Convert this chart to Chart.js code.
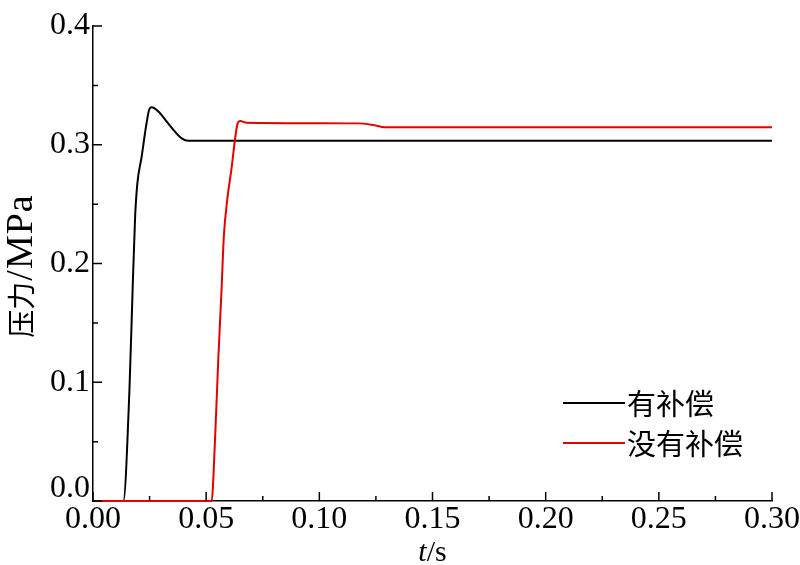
<!DOCTYPE html>
<html><head><meta charset="utf-8">
<script src="https://cdn.jsdelivr.net/npm/chart.js@4"></script>
<style>html,body{margin:0;padding:0;background:#fff}#wrap{width:800px;height:565px}</style>
</head><body><div id="wrap"><canvas id="c" width="800" height="565"></canvas></div>
<script>
// ---- data ----
const timeWith = [0, 0.0134, 0.0161, 0.0175, 0.0186, 0.0196, 0.0215, 0.0234, 0.0249, 0.0259, 0.0289, 0.0326, 0.0362, 0.0392, 0.0421, 0.30];
const pressureWith = [0, 0, 0.0935, 0.178, 0.239, 0.2675, 0.290, 0.315, 0.330, 0.3315, 0.328, 0.3194, 0.311, 0.3054, 0.3034, 0.3034];
const timeWithout = [0, 0.0524, 0.0539, 0.0554, 0.0568, 0.0578, 0.0593, 0.0613, 0.0627, 0.0639, 0.0650, 0.0679, 0.1172, 0.1238, 0.1290, 0.30];
const pressureWithout = [0, 0, 0.051, 0.1215, 0.178, 0.2226, 0.2535, 0.2815, 0.304, 0.318, 0.320, 0.3186, 0.318, 0.3166, 0.3147, 0.3147];
const xTicks = [0, 0.05, 0.10, 0.15, 0.20, 0.25, 0.30];
const yTicks = [0, 0.1, 0.2, 0.3, 0.4];
const seriesLabels = ['有补偿', '没有补偿'];
const xTitleParts = ['t', '/s'];
const yTitleParts = ['压力', '/MPa'];

const SERIF = '"Liberation Serif", "Times New Roman", serif';
const CJK = '"Noto Sans CJK SC", sans-serif';
const BLACK = '#000000';
const RED = 'rgb(228,0,0)';

const toPts = (xs, ys) => xs.map((x, i) => ({ x: x, y: ys[i] }));

const tickMarks = {
  id: 'tickMarks',
  afterDatasetsDraw(chart) {
    const ctx = chart.ctx, a = chart.chartArea;
    const xs = chart.scales.x, ys = chart.scales.y;
    ctx.save();
    ctx.strokeStyle = '#000';
    ctx.lineWidth = 1.5;
    ctx.beginPath();
    xTicks.forEach((v, i) => {
      const p = xs.getPixelForValue(v);
      ctx.moveTo(p, a.bottom); ctx.lineTo(p, a.bottom - 9);
      if (i < xTicks.length - 1) {
        const m = xs.getPixelForValue((v + xTicks[i + 1]) / 2);
        ctx.moveTo(m, a.bottom); ctx.lineTo(m, a.bottom - 5);
      }
    });
    yTicks.forEach((v, i) => {
      const p = ys.getPixelForValue(v);
      ctx.moveTo(a.left, p); ctx.lineTo(a.left + 9, p);
      if (i < yTicks.length - 1) {
        const m = ys.getPixelForValue((v + yTicks[i + 1]) / 2);
        ctx.moveTo(a.left, m); ctx.lineTo(a.left + 5, m);
      }
    });
    ctx.stroke();
    ctx.restore();
  }
};

const titlesAndLegend = {
  id: 'titlesAndLegend',
  afterDraw(chart) {
    const ctx = chart.ctx, a = chart.chartArea;
    ctx.save();
    ctx.fillStyle = '#000';
    // x title: italic t + /s
    ctx.textBaseline = 'alphabetic';
    ctx.font = 'italic 30px ' + SERIF;
    const w1 = ctx.measureText(xTitleParts[0]).width;
    ctx.font = '30px ' + SERIF;
    const w2 = ctx.measureText(xTitleParts[1]).width;
    const cx = (a.left + a.right) / 2;
    let sx = cx - (w1 + w2) / 2;
    ctx.font = 'italic 30px ' + SERIF;
    ctx.fillText(xTitleParts[0], sx, 561);
    ctx.font = '30px ' + SERIF;
    ctx.fillText(xTitleParts[1], sx + w1, 561);

    // y title rotated
    ctx.save();
    ctx.translate(21, (a.top + a.bottom) / 2 + 3);
    ctx.rotate(-Math.PI / 2);
    ctx.textBaseline = 'middle';
    ctx.textAlign = 'left';
    ctx.font = '28px ' + CJK;
    const y1 = ctx.measureText(yTitleParts[0]).width;
    ctx.font = '38px ' + SERIF;
    ctx.letterSpacing = '1px';
    const y2 = ctx.measureText(yTitleParts[1]).width;
    const st = -(y1 + y2) / 2;
    ctx.letterSpacing = '0px';
    ctx.font = '28px ' + CJK;
    ctx.fillText(yTitleParts[0], st, 0);
    ctx.font = '38px ' + SERIF;
    ctx.letterSpacing = '1px';
    ctx.fillText(yTitleParts[1], st + y1 + 1, 1);
    ctx.restore();

    // legend
    const colors = [BLACK, RED];
    const rows = [403, 443];
    ctx.letterSpacing = '0px';
    ctx.font = '29px ' + CJK;
    ctx.textBaseline = 'middle';
    ctx.textAlign = 'left';
    seriesLabels.forEach((lab, i) => {
      ctx.strokeStyle = colors[i];
      ctx.lineWidth = 2;
      ctx.beginPath();
      ctx.moveTo(563, rows[i]); ctx.lineTo(625, rows[i]);
      ctx.stroke();
      ctx.fillStyle = '#000';
      ctx.fillText(lab, 627, rows[i] + 1);
    });
    ctx.restore();
  }
};

new Chart(document.getElementById('c'), {
  type: 'line',
  data: {
    datasets: [
      { label: seriesLabels[0], data: toPts(timeWith, pressureWith), borderColor: BLACK, borderWidth: 2,
        pointRadius: 0, cubicInterpolationMode: 'monotone', clip: false, order: 1, fill: false },
      { label: seriesLabels[1], data: toPts(timeWithout, pressureWithout), borderColor: RED, borderWidth: 2,
        pointRadius: 0, cubicInterpolationMode: 'monotone', clip: false, order: 0, fill: false }
    ]
  },
  options: {
    responsive: false,
    animation: false,
    devicePixelRatio: 1,
    layout: { padding: { left: 0, top: 26, right: 28, bottom: 0 } },
    plugins: { legend: { display: false }, tooltip: { enabled: false } },
    scales: {
      x: {
        type: 'linear', min: 0, max: 0.3,
        afterBuildTicks: s => { s.ticks = xTicks.map(v => ({ value: v })); },
        afterFit: s => { s.height = 64; },
        grid: { display: true, drawOnChartArea: false, drawTicks: false },
        border: { display: true, color: '#000', width: 1.5 },
        ticks: { color: '#000', font: { family: SERIF, size: 32 }, padding: -1, maxRotation: 0, autoSkip: false,
          callback: v => Number(v).toFixed(2) }
      },
      y: {
        type: 'linear', min: 0, max: 0.4,
        afterBuildTicks: s => { s.ticks = yTicks.map(v => ({ value: v })); },
        afterFit: s => { s.width = 93; },
        grid: { display: true, drawOnChartArea: false, drawTicks: false },
        border: { display: true, color: '#000', width: 1.5 },
        ticks: { color: '#000', padding: 3, autoSkip: false,
          font: c => ({ family: SERIF, size: 32, lineHeight: c.index === 0 ? 0.75 : 1.2 }),
          callback: (v, i) => i === 0 ? [Number(v).toFixed(1), ''] : Number(v).toFixed(1) }
      }
    }
  },
  plugins: [tickMarks, titlesAndLegend]
});
</script>
</body></html>
